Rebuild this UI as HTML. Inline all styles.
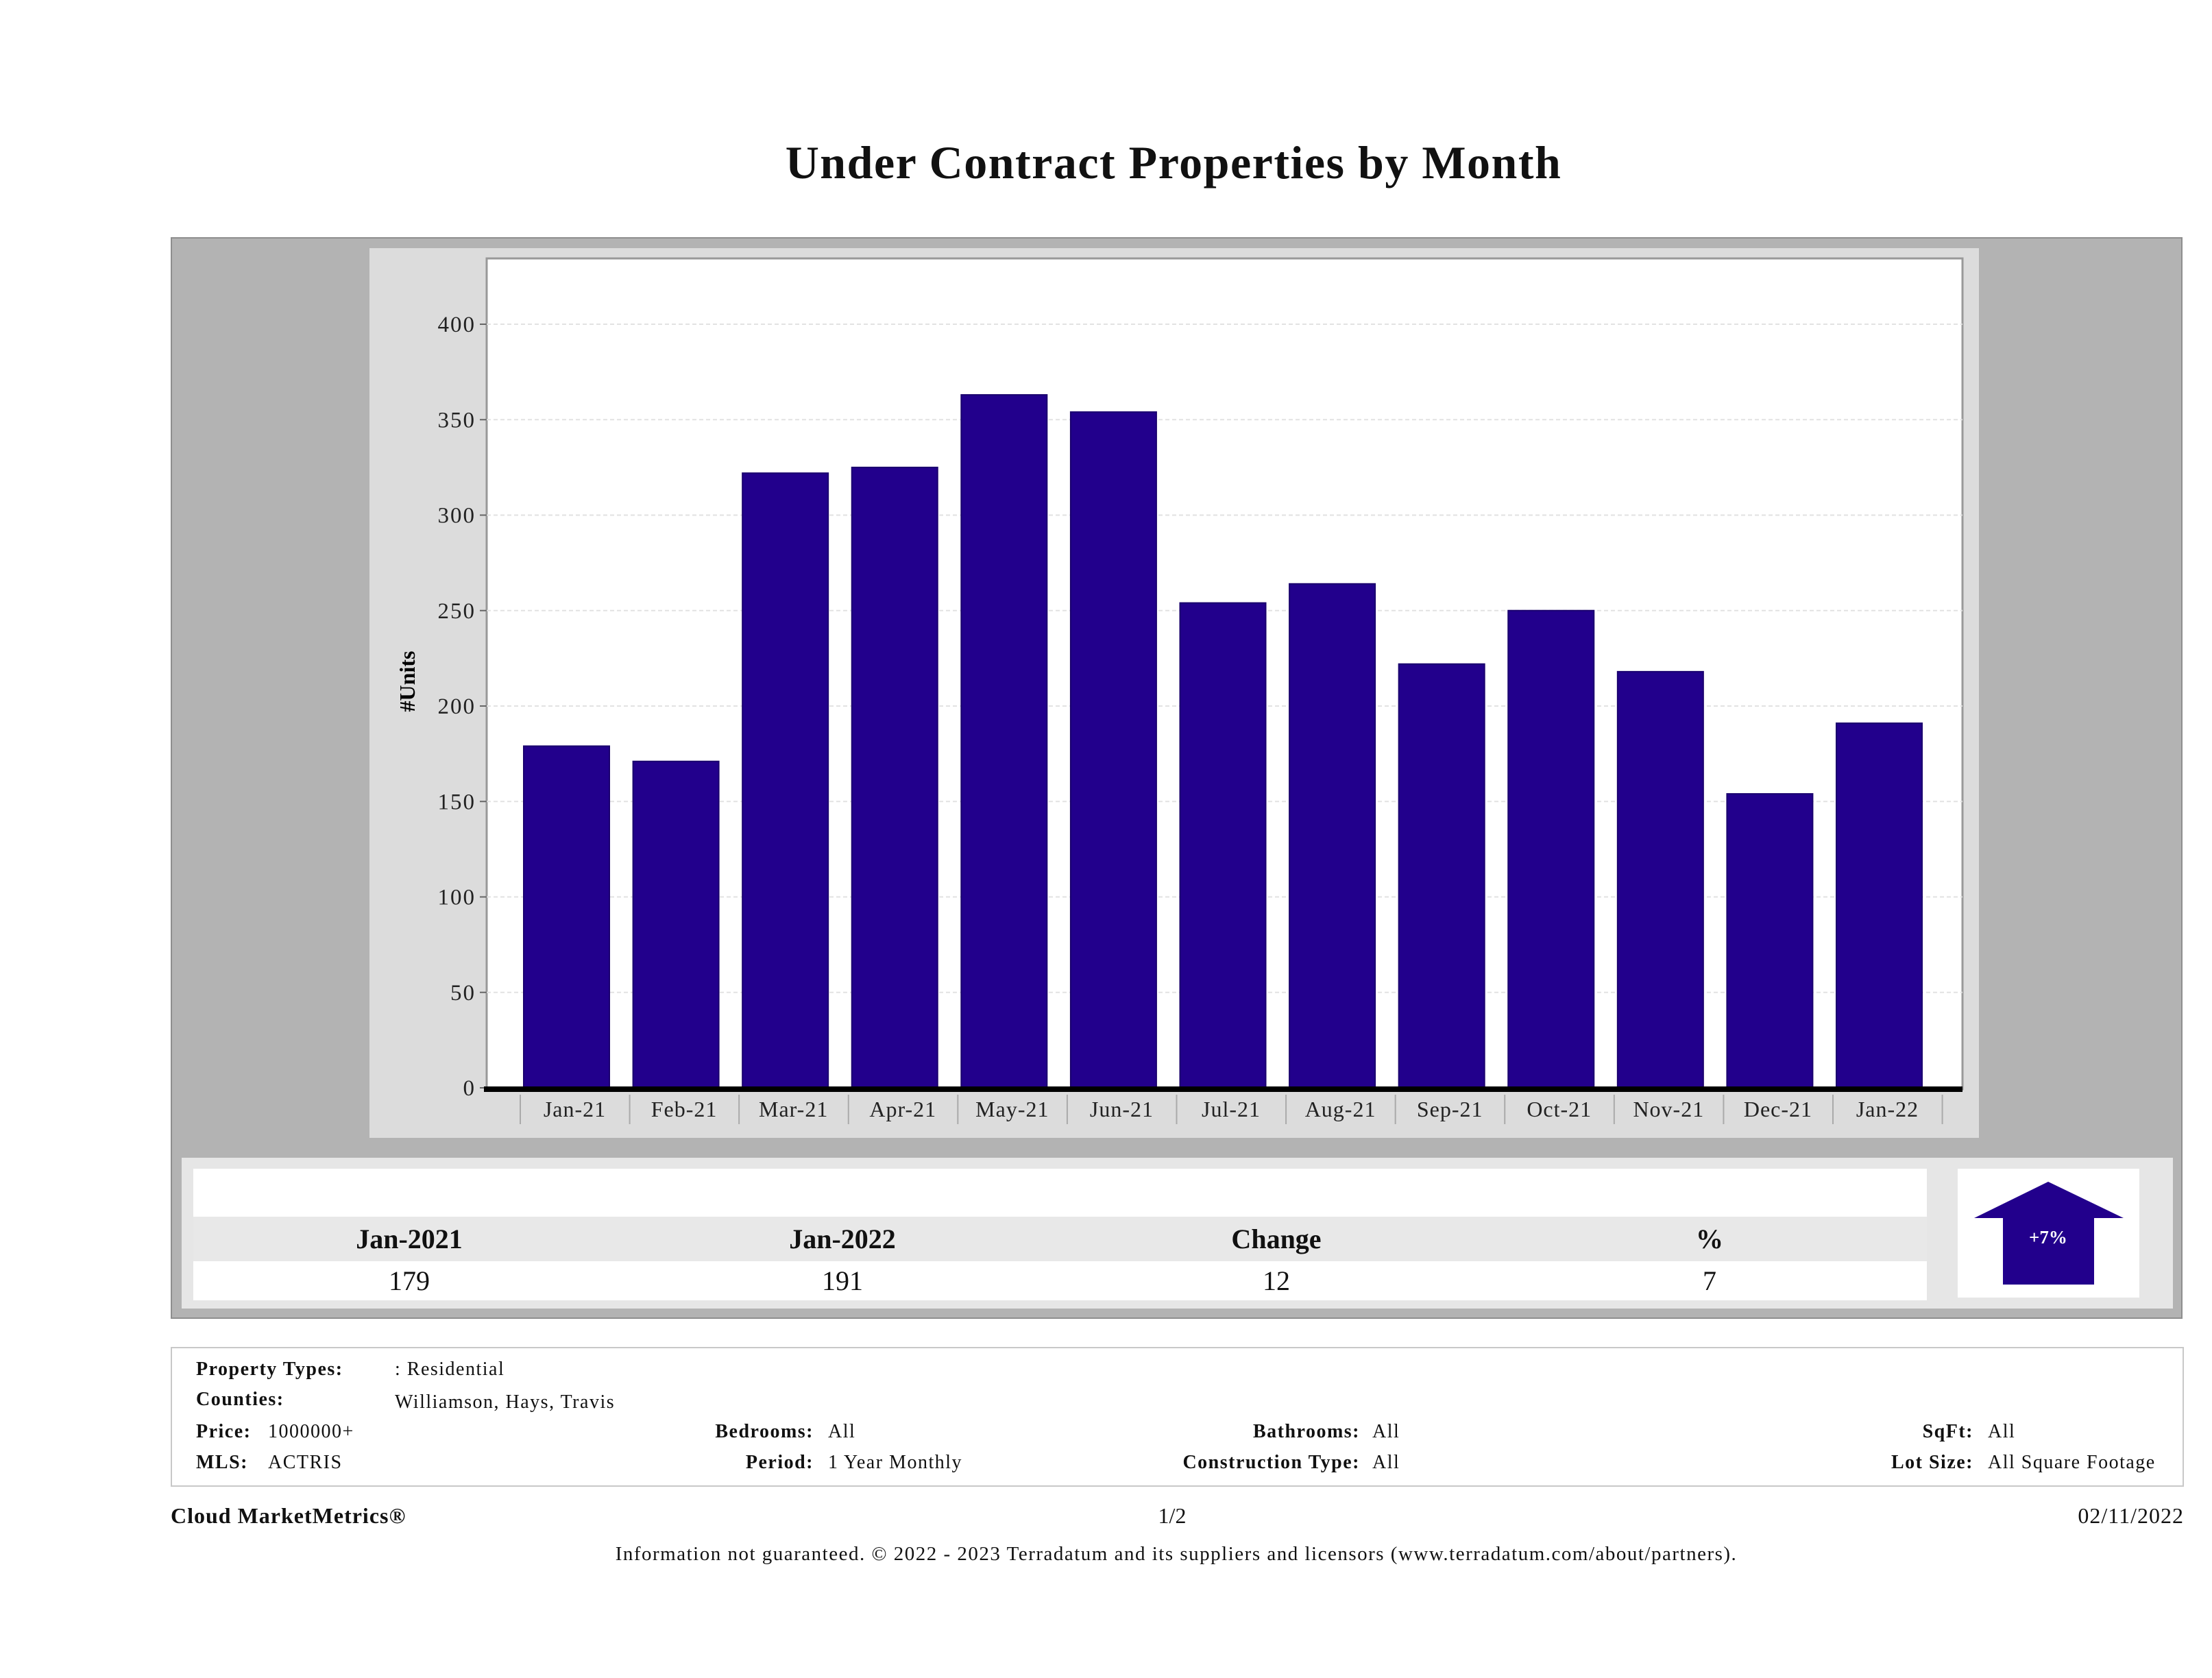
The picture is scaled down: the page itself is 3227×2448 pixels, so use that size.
<!DOCTYPE html>
<html><head><meta charset="utf-8"><style>
html,body{margin:0;padding:0;background:#fff;}
body{width:3227px;height:2448px;position:relative;overflow:hidden;font-family:"Liberation Serif",serif;color:#111;}
.a{position:absolute;white-space:nowrap;}
.b{font-weight:bold;}
.r{text-align:right;}
.c{text-align:center;transform:translateX(-50%);}
.info{font-size:28px;letter-spacing:1.5px;}
</style></head><body>
<div class="a b c" style="left:1712px;top:198px;font-size:68px;letter-spacing:1.5px;">Under Contract Properties by Month</div>

<div class="a" style="left:249px;top:346px;width:2935px;height:1578px;background:#b3b3b3;border:2px solid #8e8e8e;box-sizing:border-box;"></div>

<svg class="a" style="left:0;top:0" width="3227" height="1700" id="chart"></svg>

<div class="a" style="left:265px;top:1689px;width:2905px;height:220px;background:#e6e6e6;"></div>
<div class="a" style="left:282px;top:1705px;width:2529px;height:70px;background:#fff;"></div>
<div class="a" style="left:282px;top:1775px;width:2529px;height:65px;background:#e8e8e8;"></div>
<div class="a" style="left:282px;top:1840px;width:2529px;height:57px;background:#fff;"></div>
<div class="a b c" style="left:597px;top:1784px;font-size:40px;">Jan-2021</div>
<div class="a b c" style="left:1229px;top:1784px;font-size:40px;">Jan-2022</div>
<div class="a b c" style="left:1862px;top:1784px;font-size:40px;">Change</div>
<div class="a b c" style="left:2494px;top:1784px;font-size:40px;">%</div>
<div class="a c" style="left:597px;top:1845px;font-size:40px;">179</div>
<div class="a c" style="left:1229px;top:1845px;font-size:40px;">191</div>
<div class="a c" style="left:1862px;top:1845px;font-size:40px;">12</div>
<div class="a c" style="left:2494px;top:1845px;font-size:40px;">7</div>
<div class="a" style="left:2856px;top:1705px;width:265px;height:188px;background:#fff;"></div>
<svg class="a" style="left:0;top:0" width="3227" height="1950">
<polygon points="2988,1724 3098,1777 3055,1777 3055,1874 2922,1874 2922,1777 2880,1777" fill="#22008c"/>
<text x="2988" y="1814" font-size="27" font-weight="bold" fill="#fff" text-anchor="middle" font-family="Liberation Serif, serif">+7%</text>
</svg>

<div class="a" style="left:249px;top:1965px;width:2937px;height:204px;border:2px solid #c8c8c8;box-sizing:border-box;"></div>
<div class="a info b" style="left:286px;top:1982px;">Property Types:</div>
<div class="a info" style="left:576px;top:1982px;">: Residential</div>
<div class="a info b" style="left:286px;top:2026px;">Counties:</div>
<div class="a info" style="left:576px;top:2030px;">Williamson, Hays, Travis</div>
<div class="a info b" style="left:286px;top:2073px;">Price:</div>
<div class="a info" style="left:391px;top:2073px;">1000000+</div>
<div class="a info b r" style="right:2040px;top:2073px;">Bedrooms:</div>
<div class="a info" style="left:1208px;top:2073px;">All</div>
<div class="a info b r" style="right:1243px;top:2073px;">Bathrooms:</div>
<div class="a info" style="left:2002px;top:2073px;">All</div>
<div class="a info b r" style="right:348px;top:2073px;">SqFt:</div>
<div class="a info" style="left:2900px;top:2073px;">All</div>
<div class="a info b" style="left:286px;top:2118px;">MLS:</div>
<div class="a info" style="left:391px;top:2118px;">ACTRIS</div>
<div class="a info b r" style="right:2040px;top:2118px;">Period:</div>
<div class="a info" style="left:1208px;top:2118px;">1 Year Monthly</div>
<div class="a info b r" style="right:1243px;top:2118px;">Construction Type:</div>
<div class="a info" style="left:2002px;top:2118px;">All</div>
<div class="a info b r" style="right:348px;top:2118px;">Lot Size:</div>
<div class="a info" style="left:2900px;top:2118px;">All Square Footage</div>

<div class="a b" style="left:249px;top:2193px;font-size:32px;letter-spacing:1px;">Cloud MarketMetrics®</div>
<div class="a c" style="left:1710px;top:2193px;font-size:32px;">1/2</div>
<div class="a r" style="right:41px;top:2193px;font-size:32px;letter-spacing:1px;">02/11/2022</div>
<div class="a c" style="left:1716px;top:2251px;font-size:29px;letter-spacing:1.5px;">Information not guaranteed. © 2022 - 2023 Terradatum and its suppliers and licensors (www.terradatum.com/about/partners).</div>

<script>
const categories = ["Jan-21","Feb-21","Mar-21","Apr-21","May-21","Jun-21","Jul-21","Aug-21","Sep-21","Oct-21","Nov-21","Dec-21","Jan-22"];
const units = [179,171,322,325,363,354,254,264,222,250,218,154,191];
const yTicks = [0,50,100,150,200,250,300,350,400];

const NS = "http://www.w3.org/2000/svg";
const svg = document.getElementById("chart");
const plot = {left:710, right:2863, top:377, bottom:1589};
const yScale = v => 1587 - (v/400)*(1587-473);
const step = (2679-764)/12;
const xScale = i => 764 + i*step;
const barW = 125;
function mk(tag, attrs){const e=document.createElementNS(NS,tag);for(const k in attrs)e.setAttribute(k,attrs[k]);svg.appendChild(e);return e;}

const panel = mk("rect",{x:539,y:362,width:2348,height:1298,fill:"#dcdcdc"});


const area = mk("rect",{x:plot.left,y:plot.top,width:plot.right-plot.left,height:plot.bottom-plot.top,fill:"#fff",stroke:"#999","stroke-width":3});



yTicks.forEach(t=>{
  const y = yScale(t);
  if(t>0){
    const g = mk("line",{x1:plot.left,x2:plot.right,y1:y,y2:y,stroke:"#e2e2e2","stroke-width":2,"stroke-dasharray":"6,4"});
    
    
  }
  const tk = mk("line",{x1:plot.left-10,x2:plot.left,y1:y,y2:y,stroke:"#666","stroke-width":2});
  
  
  const lb = mk("text",{x:694,y:y+11,"font-size":33,"letter-spacing":2,"text-anchor":"end","font-family":"Liberation Serif, serif",fill:"#222"});
  lb.textContent = t;
  
  
});

const yt = mk("text",{x:0,y:0,"font-size":32,"font-weight":"bold","text-anchor":"middle","font-family":"Liberation Serif, serif",transform:"translate(605,994) rotate(-90)"});
yt.textContent = "#Units";



categories.forEach((c,i)=>{
  const x = xScale(i);
  const y = yScale(units[i]);
  const b = mk("rect",{x:x,y:y,width:barW,height:yScale(0)-y,fill:"#22008c",stroke:"#1a006e","stroke-width":2});
  
  
  const sep = mk("line",{x1:x-5,x2:x-5,y1:1597,y2:1640,stroke:"#aaa","stroke-width":2});
  
  
  const lb = mk("text",{x:x+barW/2+12,y:1629,"font-size":32,"letter-spacing":1,"text-anchor":"middle","font-family":"Liberation Serif, serif",fill:"#222"});
  lb.textContent = c;
  
  
});
const lastSep = mk("line",{x1:xScale(13)-5,x2:xScale(13)-5,y1:1597,y2:1640,stroke:"#aaa","stroke-width":2});



const ax = mk("line",{x1:plot.left-4,x2:plot.right,y1:1589,y2:1589,stroke:"#000","stroke-width":8});


</script>
</body></html>
